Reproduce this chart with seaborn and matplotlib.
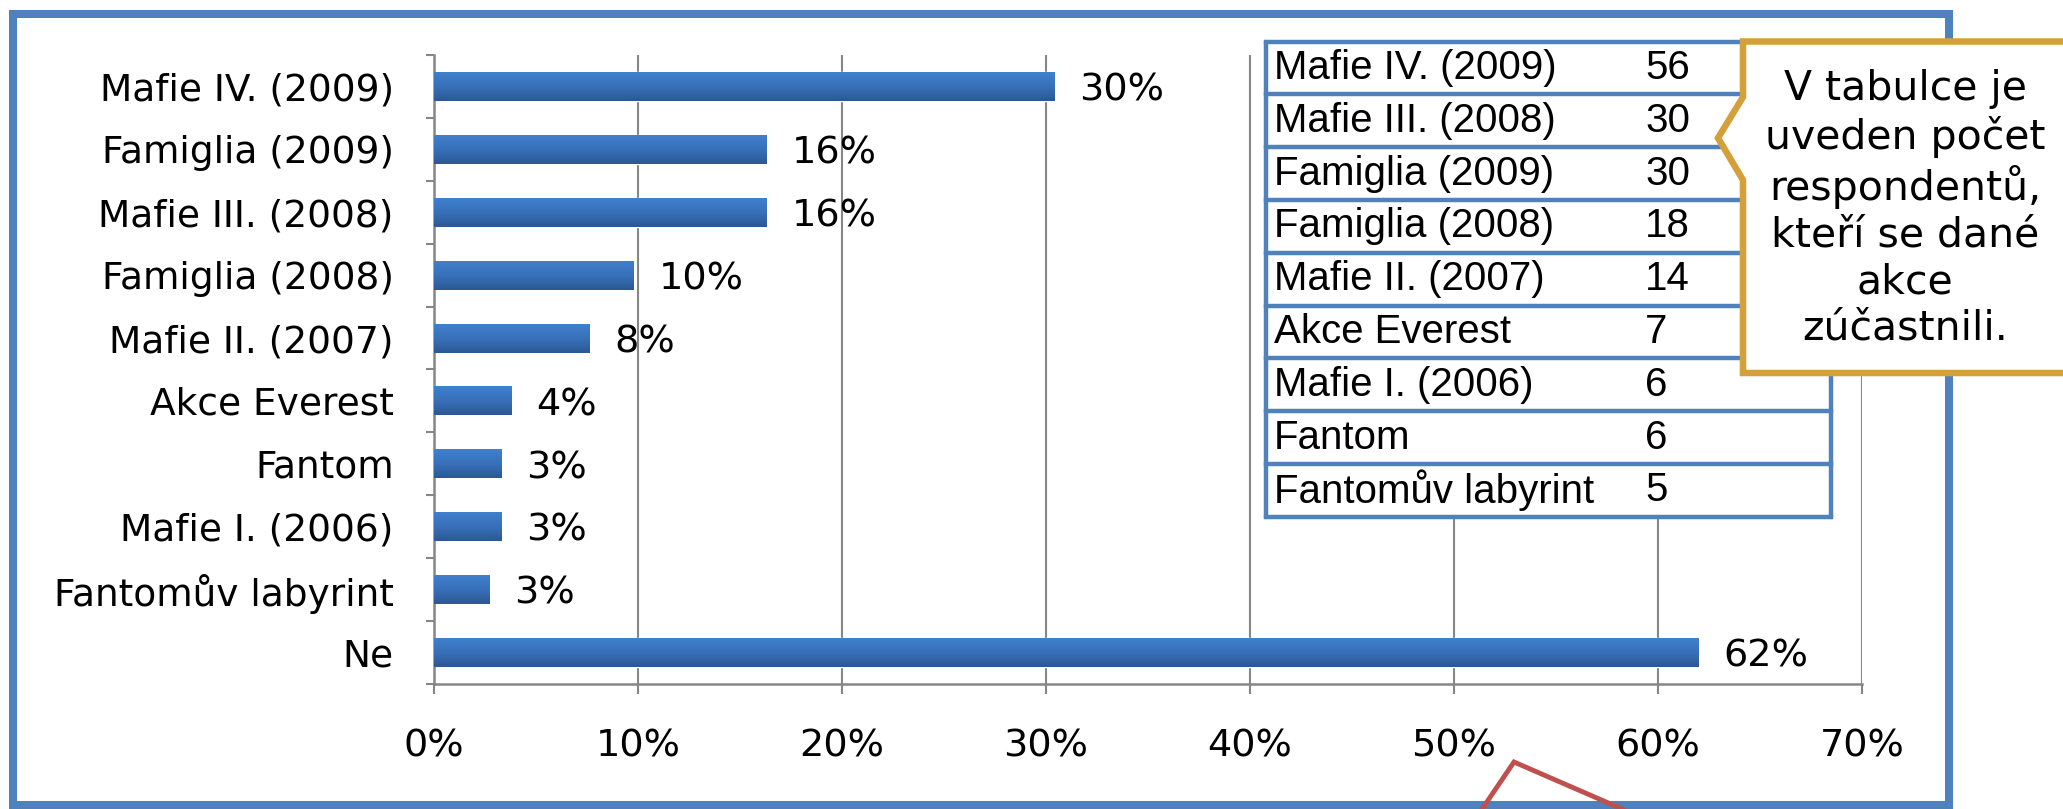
import matplotlib.pyplot as plt
import matplotlib.patches as mpatches
from matplotlib.colors import LinearSegmentedColormap
import numpy as np
import seaborn as sns

# podíl respondentů (%) podle akce
events = ["Mafie IV. (2009)", "Famiglia (2009)", "Mafie III. (2008)", "Famiglia (2008)",
          "Mafie II. (2007)", "Akce Everest", "Fantom", "Mafie I. (2006)",
          "Fantomův labyrint", "Ne"]
shares = [30.4, 16.3, 16.3, 9.8, 7.6, 3.8, 3.3, 3.3, 2.7, 62.0]
xticks = [0, 10, 20, 30, 40, 50, 60, 70]

# tabulka s počtem respondentů
table_names = ["Mafie IV. (2009)", "Mafie III. (2008)", "Famiglia (2009)", "Famiglia (2008)",
               "Mafie II. (2007)", "Akce Everest", "Mafie I. (2006)", "Fantom",
               "Fantomův labyrint"]
table_counts = [56, 30, 30, 18, 14, 7, 6, 6, 5]

note = "V tabulce je\nuveden počet\nrespondentů,\nkteří se dané\nakce\nzúčastnili."

W, H = 2063, 809
blue = "#4F81BD"
grey = "#868686"

sns.set_style("white")
plt.rcParams["font.family"] = ["DejaVu Sans"]
plt.rcParams["text.color"] = "black"

fig = plt.figure(figsize=(W / 100, H / 100), dpi=100)
fig.patch.set_facecolor("white")

# hlavní graf
ax = fig.add_axes([434 / W, 1 - 684 / H, (1862 - 434) / W, (684 - 55) / H])
sns.barplot(x=shares, y=events, orient="h", color="#3870B9", saturation=1,
            width=0.46, ax=ax)

# přechod barvy na sloupcích
cmap = LinearSegmentedColormap.from_list("bar", ["#4080CC", "#3870B9", "#2C5893"])
grad = np.linspace(0, 1, 64).reshape(-1, 1)
for p in ax.patches:
    x0, y0, w, h = p.get_x(), p.get_y(), p.get_width(), p.get_height()
    im = ax.imshow(grad, cmap=cmap, aspect="auto", extent=(x0, x0 + w, y0 + h, y0),
                   zorder=3)
    im.set_clip_path(p)

ax.set_xlim(0, 70)
ax.set_ylim(len(events) - 0.5, -0.5)
ax.set_aspect("auto")

for i, v in enumerate(shares):
    ax.annotate(f"{round(v)}%", xy=(v, i), xytext=(18, -3), textcoords="offset points",
                va="center", ha="left", fontsize=27.5, color="black")

ax.set_xticks(xticks)
ax.set_xticklabels([f"{t}%" for t in xticks])
ax.set_yticks(np.arange(-0.5, len(events), 1), minor=True)
ax.tick_params(axis="x", length=7, width=1.5, color=grey, pad=25, labelsize=27.5,
               labelcolor="black", bottom=True)
ax.tick_params(axis="y", which="major", length=0, pad=29, labelsize=27,
               labelcolor="black")
ax.tick_params(axis="y", which="minor", length=6, width=1.5, color=grey, left=True)
ax.xaxis.grid(True, color=grey, linewidth=1.5)
ax.yaxis.grid(False)
ax.set_axisbelow(True)
for s in ["top", "right"]:
    ax.spines[s].set_visible(False)
for s in ["left", "bottom"]:
    ax.spines[s].set_color(grey)
    ax.spines[s].set_linewidth(1.8)
ax.set_xlabel("")
ax.set_ylabel("")

# rámeček, tabulka a bublina
ov = fig.add_axes([0, 0, 1, 1], zorder=5)
ov.set_xlim(0, W)
ov.set_ylim(H, 0)
ov.axis("off")
ov.patch.set_alpha(0)

ov.add_patch(mpatches.Rectangle((12.5, 13.5), 1949 - 12.5, 805 - 13.5, fill=False,
                                ec=blue, lw=5.8, zorder=1))

tx0, tx1, ty0, rh = 1266, 1831, 41.5, 52.8
ov.add_patch(mpatches.Rectangle((tx0, ty0), tx1 - tx0, rh * len(table_names),
                                fc="white", ec="none", zorder=2))
for k in range(len(table_names) + 1):
    ov.plot([tx0, tx1], [ty0 + k * rh] * 2, color=blue, lw=3.2, zorder=3,
            solid_capstyle="projecting")
for xx in [tx0, tx1]:
    ov.plot([xx, xx], [ty0, ty0 + rh * len(table_names)], color=blue, lw=3.2, zorder=3)
for k, (name, cnt) in enumerate(zip(table_names, table_counts)):
    yc = ty0 + (k + 0.5) * rh
    ov.text(tx0 + 8, yc, name, va="center", ha="left", fontsize=29,
            family="Liberation Sans", zorder=4)
    ov.text(1645, yc, str(cnt), va="center", ha="left", fontsize=29,
            family="Liberation Sans", zorder=4)

callout = [(1743, 41.5), (2090, 41.5), (2090, 373), (1743, 373), (1743, 180),
           (1718, 138), (1743, 97)]
ov.add_patch(mpatches.Polygon(callout, closed=True, fc="white", ec="#D4A03A",
                              lw=4.7, joinstyle="miter", zorder=6))
ov.text(1905, 209, note, ha="center", va="center", fontsize=29.5, linespacing=1.21,
        zorder=7)

ov.plot([1478, 1514, 1636], [815, 762, 815], color="#C0504D", lw=3.5,
        solid_joinstyle="miter", zorder=8)

fig.savefig("out.png", dpi=100)
